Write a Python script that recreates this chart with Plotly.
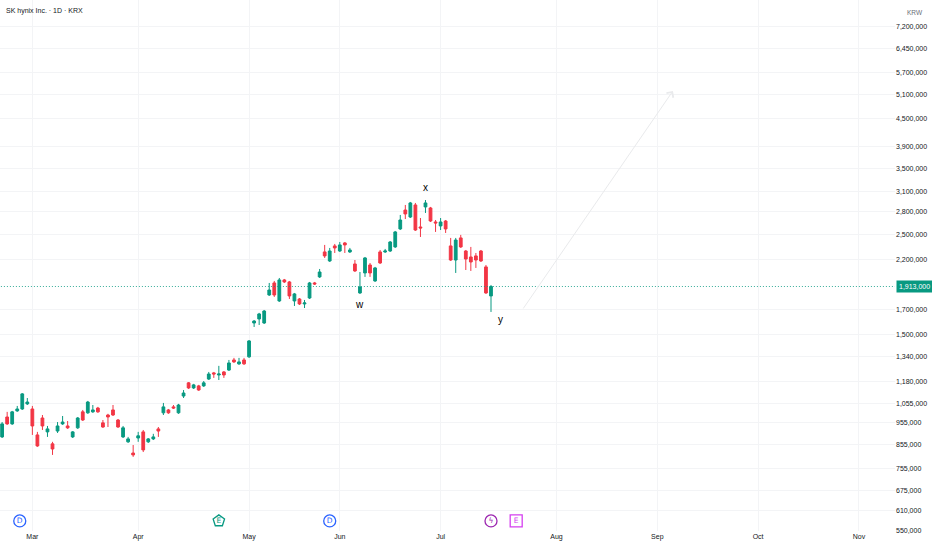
import numpy as np
import plotly.graph_objects as go

title = 'SK hynix Inc. · 1D · KRX'
currency = 'KRW'

# daily candles in KRW (late Feb .. mid July)
opens = [888000, 983000, 949000, 1014000, 1024000, 1051000, 1024000, 897000, 978000, 911000,
         857000, 915000, 949000, 939000, 888000, 930000, 1009000, 1004000, 1009000, 1029000,
         954000, 993000, 1019000, 968000, 888000, 866000, 818000, 883000, 911000, 866000,
         879000, 925000, 1004000, 1019000, 1035000, 1004000, 1094000, 1170000, 1140000, 1152000,
         1152000, 1193000, 1231000, 1218000, 1237000, 1249000, 1315000, 1289000, 1315000, 1336000,
         1588000, 1621000, 1588000, 1832000, 1948000, 1777000, 1978000, 1958000, 1777000, 1795000,
         1750000, 1804000, 1948000, 2009000, 2282000, 2179000, 2353000, 2293000, 2389000, 2282000,
         2146000, 1851000, 2050000, 2135000, 1968000, 2282000, 2282000, 2293000, 2341000, 2566000,
         2826000, 2727000, 2900000, 2592000, 2871000, 2856000, 2659000, 2606000, 2672000, 2353000,
         2190000, 2451000, 2293000, 2224000, 2236000, 2293000, 2114000, 1823000]
highs = [958000, 1009000, 1014000, 1040000, 1111000, 1083000, 1040000, 911000, 993000, 939000,
         866000, 958000, 988000, 963000, 915000, 983000, 1019000, 1067000, 1045000, 1035000,
         968000, 999000, 1045000, 973000, 939000, 888000, 852000, 911000, 920000, 883000,
         902000, 934000, 1056000, 1024000, 1045000, 1051000, 1128000, 1175000, 1164000, 1158000,
         1181000, 1237000, 1237000, 1276000, 1243000, 1315000, 1329000, 1329000, 1329000, 1456000,
         1612000, 1672000, 1697000, 1948000, 1968000, 1998000, 1988000, 1968000, 1851000, 1804000,
         1786000, 1958000, 1958000, 2092000, 2365000, 2329000, 2377000, 2401000, 2401000, 2329000,
         2190000, 2060000, 2224000, 2157000, 2114000, 2305000, 2317000, 2413000, 2540000, 2756000,
         2900000, 2945000, 2930000, 2713000, 2974000, 2871000, 2686000, 2713000, 2686000, 2451000,
         2451000, 2489000, 2305000, 2341000, 2270000, 2305000, 2135000, 1928000]
lows = [883000, 944000, 944000, 1009000, 1019000, 1045000, 897000, 844000, 920000, 888000,
        810000, 906000, 944000, 925000, 883000, 925000, 963000, 999000, 1004000, 1004000,
        930000, 934000, 988000, 930000, 883000, 861000, 802000, 866000, 822000, 861000,
        874000, 888000, 993000, 999000, 1024000, 999000, 1083000, 1134000, 1134000, 1123000,
        1146000, 1187000, 1200000, 1187000, 1200000, 1243000, 1295000, 1282000, 1282000, 1329000,
        1556000, 1572000, 1580000, 1823000, 1814000, 1768000, 1948000, 1795000, 1732000, 1741000,
        1714000, 1795000, 1928000, 1998000, 2213000, 2168000, 2270000, 2282000, 2270000, 2270000,
        2060000, 1842000, 2009000, 2009000, 1958000, 2146000, 2270000, 2282000, 2329000, 2552000,
        2699000, 2713000, 2540000, 2463000, 2784000, 2659000, 2527000, 2552000, 2514000, 2179000,
        2050000, 2329000, 2081000, 2071000, 2103000, 2168000, 1842000, 1680000]
closes = [949000, 949000, 1009000, 1024000, 1106000, 1061000, 939000, 848000, 939000, 925000,
          835000, 939000, 958000, 930000, 911000, 978000, 968000, 1061000, 1019000, 1009000,
          934000, 983000, 993000, 934000, 930000, 879000, 810000, 893000, 831000, 879000,
          888000, 915000, 1035000, 1004000, 1029000, 1045000, 1111000, 1140000, 1158000, 1128000,
          1170000, 1224000, 1224000, 1224000, 1218000, 1295000, 1302000, 1302000, 1289000, 1449000,
          1604000, 1663000, 1688000, 1879000, 1832000, 1978000, 1958000, 1823000, 1842000, 1750000,
          1759000, 1948000, 1938000, 2060000, 2236000, 2293000, 2329000, 2365000, 2365000, 2305000,
          2071000, 1909000, 2213000, 2050000, 2103000, 2157000, 2293000, 2401000, 2527000, 2686000,
          2770000, 2930000, 2552000, 2579000, 2930000, 2672000, 2646000, 2659000, 2566000, 2190000,
          2425000, 2341000, 2201000, 2168000, 2190000, 2179000, 1851000, 1913000]

# time axis: bar index of the first session of each month
month_labels = ['Mar', 'Apr', 'May', 'Jun', 'Jul', 'Aug', 'Sep', 'Oct', 'Nov']
month_idx = [6, 27, 49, 67, 87, 110, 130, 150, 170]

price_ticks = [550000, 610000, 675000, 755000, 855000, 955000, 1055000, 1180000, 1340000,
               1500000, 1700000, 2200000, 2500000, 2800000, 3100000, 3500000, 3900000,
               4500000, 5100000, 5700000, 6450000, 7200000]

# wave labels
wave_idx = [71, 84, 97]
wave_text = ['w', 'x', 'y']
wave_side = ['low', 'high', 'low']

# projection arrow (bar index, price)
proj_x = [103.2, 133.1]
proj_y = [1697000, 5190000]

# events along the bottom
event_idx = [3.5, 43, 65, 97, 102]
event_text = ['D', 'E', 'D', 'ϟ', 'E']
event_color = ['#2962ff', '#089981', '#2962ff', '#9c27b0', '#d53ff0']
event_symbol = ['circle', 'pentagon', 'circle', 'circle', 'square']

UP = '#089981'
DOWN = '#f23645'
TXT = '#131722'
FONT = 'Liberation Sans'
BADGE_Y = 0.019  # badge row, as a fraction of the plot height

bars = list(range(len(opens)))

fig = go.Figure()

fig.add_trace(go.Candlestick(
    x=bars, open=opens, high=highs, low=lows, close=closes,
    increasing=dict(line=dict(color=UP, width=1), fillcolor=UP),
    decreasing=dict(line=dict(color=DOWN, width=1), fillcolor=DOWN),
    whiskerwidth=0,
    showlegend=False,
))

# last price line
fig.add_trace(go.Scatter(
    x=[-5, 200], y=[closes[-1], closes[-1]],
    mode='lines', line=dict(color='rgba(8,153,129,0.8)', width=1, dash='1px,2px'),
    hoverinfo='skip', showlegend=False,
))

# event badges on a hidden overlay axis
fig.add_trace(go.Scatter(
    x=event_idx, y=[BADGE_Y] * len(event_idx), yaxis='y2',
    mode='markers+text', text=event_text, textposition='middle center',
    textfont=dict(size=7.5, color=event_color, family='DejaVu Sans'),
    marker=dict(size=12, symbol=event_symbol, color='white',
                line=dict(color=event_color, width=1.3)),
    hoverinfo='skip', showlegend=False, cliponaxis=False,
))

annotations = []
annotations.append(dict(
    text=title, xref='paper', yref='paper', x=0, y=1, xanchor='left', yanchor='top',
    xshift=4, yshift=-5, showarrow=False, font=dict(size=7, color=TXT, family=FONT),
))
annotations.append(dict(
    text=currency, xref='paper', yref='paper', x=1, y=1, xanchor='left', yanchor='top',
    xshift=10, yshift=-7, showarrow=False, font=dict(size=6.5, color='#6a6d78', family=FONT),
))
annotations.append(dict(
    text=f'{closes[-1]:,}', xref='paper', yref='y', x=1, y=np.log10(closes[-1]),
    xanchor='left', showarrow=False, bgcolor=UP, borderpad=2, xshift=1,
    font=dict(size=7, color='white', family=FONT),
))

for idx, t, side in zip(wave_idx, wave_text, wave_side):
    if side == 'high':
        yv, ys, xs = highs[idx], 13, 0
    else:
        yv, ys, xs = lows[idx], -11, 0
    if idx == len(opens) - 1:
        ys, xs = -8, 9
    annotations.append(dict(
        text=t, x=idx, y=np.log10(yv), xref='x', yref='y', showarrow=False,
        yshift=ys, xshift=xs, font=dict(size=10, color='#000000', family=FONT),
    ))

annotations.append(dict(
    text='', x=proj_x[1], y=np.log10(proj_y[1]), ax=proj_x[0], ay=np.log10(proj_y[0]),
    xref='x', yref='y', axref='x', ayref='y', showarrow=True,
    arrowhead=4, arrowsize=1.6, arrowwidth=1, arrowcolor='#e9eaec',
))

fig.update_layout(
    width=932, height=550, autosize=False,
    margin=dict(l=0, r=37, t=0, b=19),
    paper_bgcolor='white', plot_bgcolor='white',
    font=dict(family=FONT, size=7, color=TXT),
    boxgap=0.22,
    xaxis=dict(
        range=[-0.42, 177.16], rangeslider=dict(visible=False),
        tickmode='array', tickvals=month_idx, ticktext=month_labels,
        showgrid=True, gridcolor='#f3f4f6', zeroline=False, showline=False, ticks='',
        tickfont=dict(size=7, color=TXT, family=FONT),
    ),
    yaxis=dict(
        type='log', side='right', range=[5.7399, 6.9166],
        tickmode='array', tickvals=price_ticks, ticktext=[f'{v:,}' for v in price_ticks],
        showgrid=True, gridcolor='#f3f4f6', zeroline=False, showline=False, ticks='',
        tickfont=dict(size=7, color=TXT, family=FONT),
    ),
    yaxis2=dict(overlaying='y', range=[0, 1], visible=False, fixedrange=True),
    annotations=annotations,
    showlegend=False,
)

# page body has a default 8px margin; drop it so the figure fills the window
fig.write_html('out.html', config={'displayModeBar': False},
               post_script="document.body.style.margin='0';")
